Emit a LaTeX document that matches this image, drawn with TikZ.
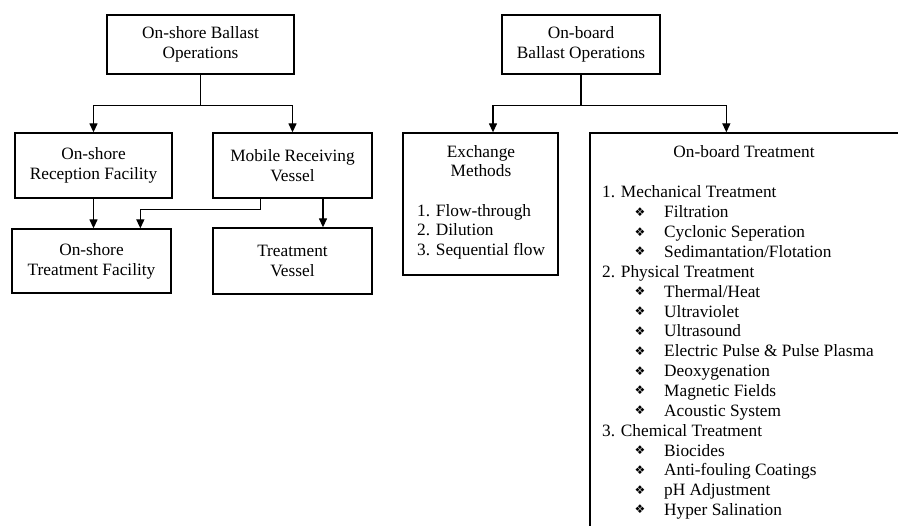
\documentclass[tikz,border=0pt]{standalone}
\usepackage{fontspec}
\setmainfont{Liberation Serif}
\newfontfamily\symfont{DejaVu Sans}
\usetikzlibrary{arrows.meta,calc}
\begin{document}
\begin{tikzpicture}[x=1pt,y=-1pt,
  box/.style={draw,line width=1.3pt,rectangle,inner sep=0pt,align=center,font=\fontsize{17.3}{20}\selectfont},
  conn/.style={line width=1.3pt},
  arr/.style={conn,-{Triangle[width=8pt,length=9pt]}},
  txt/.style={inner sep=0pt,anchor=base west,font=\fontsize{17.3}{20}\selectfont},
  ctxt/.style={inner sep=0pt,anchor=base,font=\fontsize{17.3}{20}\selectfont},
  bul/.style={inner sep=0pt,anchor=center,font=\fontsize{12}{14}\symfont}
]
\useasboundingbox (0,0) rectangle (898,526);
\clip (0,0) rectangle (898,526);

% boxes
\node[box,minimum width=187pt,minimum height=59pt] (onshore) at (200.5,44.5) {On-shore Ballast\\Operations};
\node[box,minimum width=158pt,minimum height=59pt] (onboard) at (581,44.5) {On-board\\Ballast Operations};
\node[box,minimum width=157pt,minimum height=65pt] (reception) at (93.5,165.5) {On-shore\\Reception Facility};
\node[box,minimum width=159pt,minimum height=65pt] (mobile) at (292.5,165.5) {Mobile Receiving\\Vessel};
\node[box,minimum width=159pt,minimum height=64pt] (otf) at (91.5,261) {On-shore\\Treatment Facility};
\node[box,minimum width=159pt,minimum height=66pt] (tv) at (292.5,261) {Treatment\\Vessel};
\node[box,minimum width=155pt,minimum height=142pt] (exch) at (480.5,204) {};
\node[box,minimum width=314pt,minimum height=427pt] (obt) at (747,346.5) {};

% connectors left
\draw[conn] (onshore.south) -- ++(0,31) coordinate (ja);
\draw[arr] (ja) -| (reception.north);
\draw[arr] (ja) -| (mobile.north);
\draw[arr] (reception.south) -- (reception.south |- otf.north);
\draw[arr] ($(mobile.south west)+(48,0)$) -- ++(0,11) -| ($(otf.north west)+(129,0)$);
\draw[arr] ($(mobile.south)+(30.5,0)$) -- ($(tv.north)+(30.5,0)$);

% connectors right
\draw[conn] (onboard.south) -- ++(0,31) coordinate (jb);
\draw[arr] (jb) -| ($(exch.north)+(12.5,0)$);
\draw[arr] (jb) -| ($(obt.north west)+(137,0)$);

% exchange text
\node[ctxt] (ex1) at (481,158) {Exchange};
\node[ctxt] (ex2) at (481,177) {Methods};
\node[txt] (ex3) at (417,217) {1. Flow-through};
\node[txt] (ex4) at (417,236) {2. Dilution};
\node[txt] (ex5) at (417,256) {3. Sequential flow};

% on-board treatment text
\node[ctxt] (obtt) at (744,158) {On-board Treatment};
\foreach \i/\kind/\t in {
  0/n/{1. Mechanical Treatment},
  1/b/{Filtration},
  2/b/{Cyclonic Seperation},
  3/b/{Sedimantation/Flotation},
  4/n/{2. Physical Treatment},
  5/b/{Thermal/Heat},
  6/b/{Ultraviolet},
  7/b/{Ultrasound},
  8/b/{Electric Pulse \& Pulse Plasma},
  9/b/{Deoxygenation},
  10/b/{Magnetic Fields},
  11/b/{Acoustic System},
  12/n/{3. Chemical Treatment},
  13/b/{Biocides},
  14/b/{Anti-fouling Coatings},
  15/b/{pH Adjustment},
  16/b/{Hyper Salination}}{
  \pgfmathsetmacro{\yc}{192+\i*19.85}
  \if\kind n
    \node[txt] (it\i) at (602,\yc+6) {\t};
  \else
    \node[bul] (bu\i) at (640,\yc) {❖};
    \node[txt] (it\i) at (664,\yc+6) {\t};
  \fi
}
\end{tikzpicture}
\end{document}
